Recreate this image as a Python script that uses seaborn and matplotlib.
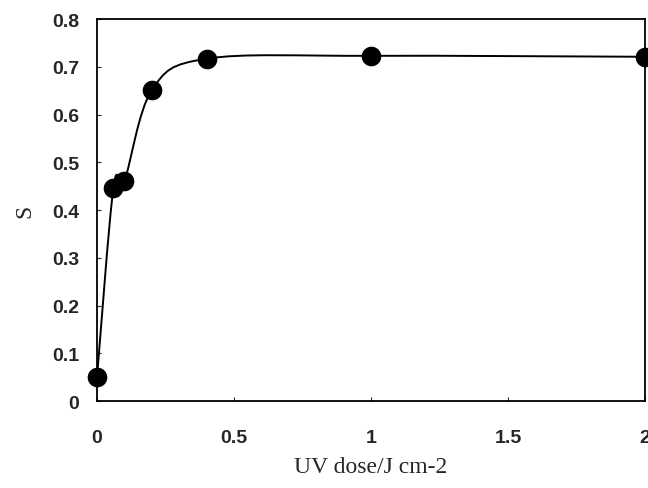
import numpy as np
import seaborn as sns
import matplotlib.pyplot as plt
from matplotlib.path import Path
from matplotlib.patches import PathPatch

# Data
uv_dose = [0.0, 0.06, 0.10, 0.20, 0.40, 1.0, 2.0]
s_value = [0.05, 0.447, 0.461, 0.651, 0.717, 0.723, 0.721]
x_ticks = [0, 0.5, 1, 1.5, 2]
x_tick_labels = ['0', '0.5', '1', '1.5', '2']
y_ticks = [0, 0.1, 0.2, 0.3, 0.4, 0.5, 0.6, 0.7, 0.8]
y_tick_labels = ['0', '0.1', '0.2', '0.3', '0.4', '0.5', '0.6', '0.7', '0.8']


def smooth_path(x, y):
    # Excel-style smoothed line: cubic Bezier segments with Catmull-Rom controls
    pts = np.column_stack([x, y]).astype(float)
    n = len(pts)
    verts = [pts[0]]
    codes = [Path.MOVETO]
    for i in range(n - 1):
        p0 = pts[i - 1] if i > 0 else pts[i]
        p1 = pts[i]
        p2 = pts[i + 1]
        p3 = pts[i + 2] if i + 2 < n else pts[i + 1]
        c1 = p1 + (p2 - p0) / 6.0
        c2 = p2 - (p3 - p1) / 6.0
        verts += [c1, c2, p2]
        codes += [Path.CURVE4] * 3
    return Path(verts, codes)


sns.set_style('ticks')
plt.rcParams['font.family'] = ['Liberation Sans', 'DejaVu Sans']

fig = plt.figure(figsize=(6.48, 4.89), dpi=100)
ax = fig.add_axes([0.1497, 0.1779, 0.8457, 0.7811])

ax.add_patch(PathPatch(smooth_path(uv_dose, s_value), facecolor='none',
                       edgecolor='black', linewidth=1.4, clip_on=False, zorder=2))
sns.scatterplot(x=uv_dose, y=s_value, ax=ax, color='black', s=200,
                edgecolor='black', linewidth=0, clip_on=False, zorder=3)

ax.set_xlim(0, 2)
ax.set_ylim(0, 0.8)
ax.set_xticks(x_ticks)
ax.set_xticklabels(x_tick_labels)
ax.set_yticks(y_ticks)
ax.set_yticklabels(y_tick_labels)
ax.tick_params(direction='in', length=3, width=0.8, labelsize=14)
ax.tick_params(axis='x', pad=20)
ax.tick_params(axis='y', pad=13)
for lab in ax.get_xticklabels() + ax.get_yticklabels():
    lab.set_fontweight('bold')

for side in ['left', 'right', 'top', 'bottom']:
    ax.spines[side].set_visible(True)
    ax.spines[side].set_linewidth(1.3)
    ax.spines[side].set_color('black')

ax.set_xlabel('UV dose/J cm-2', family='Liberation Serif', fontsize=17, labelpad=7)
ax.set_ylabel('S', family='Liberation Serif', fontsize=17, labelpad=12)

fig.savefig('out.png', dpi=100)
